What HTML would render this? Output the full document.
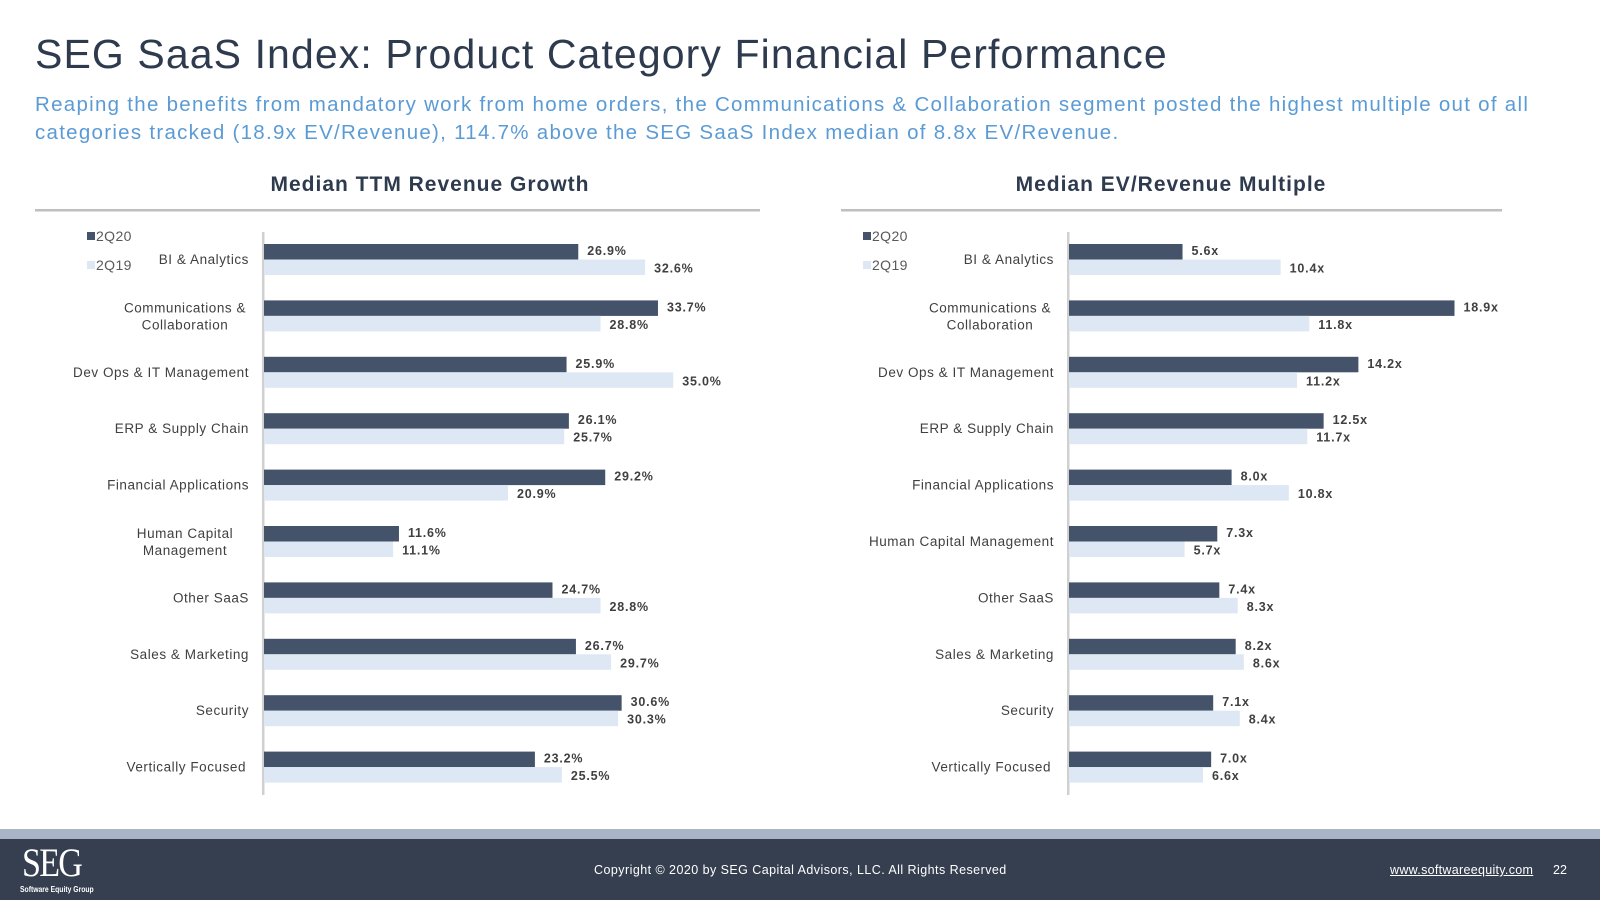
<!DOCTYPE html>
<html><head><meta charset="utf-8"><style>
body{margin:0;width:1600px;height:900px;overflow:hidden;background:#fff;font-family:"Liberation Sans",sans-serif;position:relative}
.t{position:absolute;left:35px;top:31px;font-size:41px;color:#2e3a4e;margin:0;font-weight:normal;letter-spacing:1.1px;white-space:nowrap}
.s{position:absolute;left:35px;top:91px;font-size:20.5px;line-height:28px;color:#5b9bd5;width:1560px;letter-spacing:1.28px;white-space:nowrap}
</style></head><body>
<h1 class="t">SEG SaaS Index: Product Category Financial Performance</h1>
<div class="s">Reaping the benefits from mandatory work from home orders, the Communications &amp; Collaboration segment posted the highest multiple out of all<br>categories tracked (18.9x EV/Revenue), 114.7% above the SEG SaaS Index median of 8.8x EV/Revenue.</div>
<svg id="c" width="1600" height="900" style="position:absolute;left:0;top:0"></svg>
<script>
const categories=[["BI & Analytics"],["Communications &","Collaboration"],["Dev Ops & IT Management"],["ERP & Supply Chain"],["Financial Applications"],["Human Capital","Management"],["Other SaaS"],["Sales & Marketing"],["Security"],["Vertically Focused"]];
const categoriesRight=[["BI & Analytics"],["Communications &","Collaboration"],["Dev Ops & IT Management"],["ERP & Supply Chain"],["Financial Applications"],["Human Capital Management"],["Other SaaS"],["Sales & Marketing"],["Security"],["Vertically Focused"]];
const growth2Q20=[26.9,33.7,25.9,26.1,29.2,11.6,24.7,26.7,30.6,23.2];
const growth2Q19=[32.6,28.8,35.0,25.7,20.9,11.1,28.8,29.7,30.3,25.5];
const multiple2Q20=[5.6,18.9,14.2,12.5,8.0,7.3,7.4,8.2,7.1,7.0];
const multiple2Q19=[10.4,11.8,11.2,11.7,10.8,5.7,8.3,8.6,8.4,6.6];
const NS="http://www.w3.org/2000/svg",svg=document.getElementById('c');
function el(t,a,p){const e=document.createElementNS(NS,t);for(const k in a)e.setAttribute(k,a[k]);(p||svg).appendChild(e);return e;}
function chart(o){
 const g=el('g',{});
 
 
 const tt=el('text',{x:o.cx,y:191,'text-anchor':'middle','font-size':21,'font-weight':'bold',fill:'#2e3a4e','letter-spacing':1.0},g);tt.textContent=o.title;
 
 
 const ul=el('rect',{x:o.ux1,y:209,width:o.ux2-o.ux1,height:2.5,fill:'#bfbfbf'},g);
 
 
 const ax=el('rect',{x:o.ax-1,y:232,width:2.5,height:563,fill:'#d0d0d0'},g);
 
 
 const X=v=>o.ax+v*o.k;
 [['2Q20','#44526a',241],['2Q19','#dde8f4',270]].forEach(([n,c,y])=>{
  const r=el('rect',{x:o.lx,y:y-9,width:8,height:8,fill:c},g);
  
  
  const t=el('text',{x:o.lx+9,y:y,'font-size':14,fill:'#595959','letter-spacing':0.4},g);t.textContent=n;
  
  
 });
 o.cats.forEach((c,i)=>{
  const y0=244+i*56.4;
  const ex=o.ax-14-(i==9?3:0);
  const lab=el('text',{'font-size':13.5,fill:'#404040','letter-spacing':0.55,'text-anchor':c.length>1?'middle':'end'},g);
  c.forEach((line,j)=>{const ts=el('tspan',{x:c.length>1?o.ax-14-64:ex,y:y0+(c.length>1?12+j*17:20)},lab);ts.textContent=line;});
  
  
  [[o.a[i],'#44526a',0],[o.b[i],'#dde8f4',15.5]].forEach(([v,col,dy],s)=>{
   const r=el('rect',{x:o.ax+1,y:y0+dy,width:X(v)-o.ax-1,height:15.5,fill:col},g);
   
   
   const t=el('text',{x:X(v)+9,y:y0+dy+(s?13:11),'font-size':12.5,'font-weight':'bold',fill:'#404040','letter-spacing':0.8},g);
   t.textContent=v.toFixed(1)+o.suf;
   
   
  });
 });
}
chart({name:'revenue-growth-chart',title:'Median TTM Revenue Growth',cx:430,ux1:35,ux2:760,ax:263,k:11.72,lx:87,cats:categories,a:growth2Q20,b:growth2Q19,suf:'%'});
chart({name:'ev-revenue-chart',title:'Median EV/Revenue Multiple',cx:1171,ux1:841,ux2:1502,ax:1068,k:20.45,lx:863,cats:categoriesRight,a:multiple2Q20,b:multiple2Q19,suf:'x'});
</script>
<div style="position:absolute;left:0;top:829px;width:1600px;height:10px;background:#a9b4c6"></div>
<div style="position:absolute;left:0;top:839px;width:1600px;height:61px;background:#353f50;color:#fff">
 <div style="position:absolute;left:22px;top:0px;font-family:'Liberation Serif',serif;font-size:40px;letter-spacing:-2px;transform:scaleX(0.85);transform-origin:left">SEG</div>
 <div style="position:absolute;left:20px;top:46px;font-size:8px;font-weight:bold;transform:scaleX(0.85);transform-origin:left">Software Equity Group</div>
 <div style="position:absolute;left:594px;top:24px;font-size:12.5px;letter-spacing:0.45px">Copyright © 2020 by SEG Capital Advisors, LLC. All Rights Reserved</div>
 <div style="position:absolute;left:1390px;top:24px;font-size:12.5px;text-decoration:underline;letter-spacing:0.3px">www.softwareequity.com</div>
 <div style="position:absolute;left:1553px;top:24px;font-size:12.5px">22</div>
</div>
</body></html>
